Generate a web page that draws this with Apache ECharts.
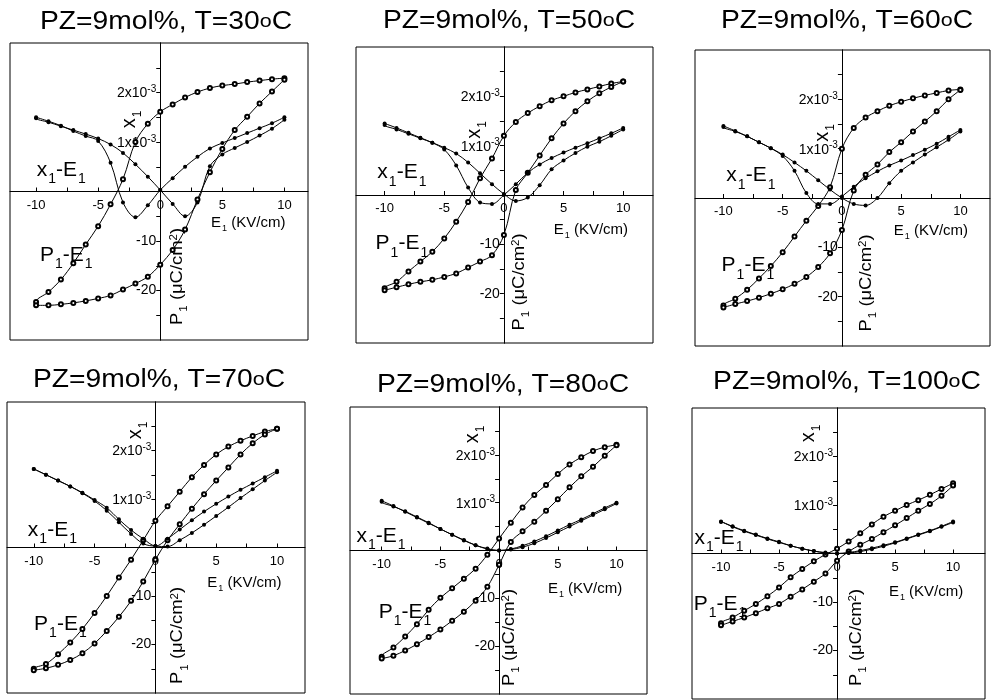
<!DOCTYPE html>
<html>
<head>
<meta charset="utf-8">
<script src="https://cdn.jsdelivr.net/npm/echarts@6/dist/echarts.min.js"></script>
<style>
  html, body { margin: 0; padding: 0; background: #fff; }
  #chart { width: 992px; height: 700px; }
</style>
</head>
<body>
<div id="chart"></div>
<script>
// field E1 (kV/cm) shared by every branch
const E = [-10,-9,-8,-7,-6,-5,-4,-3,-2,-1,0,1,2,3,4,5,6,7,8,9,10];
const temps = [30, 50, 60, 70, 80, 100];

// P1 (uC/cm2): up = branch swept from +Emax, down = branch swept from -Emax
// x1 (x10^-3): inc = field increasing, dec = field decreasing
const pUp30 = [-22.3,-20.3,-17.8,-14.5,-10.7,-7.0,-2.6,2.5,10.0,13.7,16.1,17.6,19.0,20.1,20.9,21.4,21.7,22.1,22.4,22.7,22.9];
const pDown30 = [-23.0,-23.0,-22.8,-22.5,-22.1,-21.6,-21.0,-19.8,-18.6,-17.2,-14.8,-11.8,-7.7,-1.6,3.9,8.6,12.4,15.1,17.8,20.2,22.6];
const xInc30 = [1.48,1.40,1.32,1.24,1.16,1.07,0.95,0.78,0.55,0.30,0.03,-0.25,-0.50,-0.22,0.51,0.75,0.88,1.00,1.13,1.27,1.45];
const xDec30 = [1.50,1.42,1.33,1.22,1.12,1.02,0.58,-0.22,-0.52,-0.28,0.03,0.27,0.50,0.70,0.87,0.98,1.08,1.18,1.28,1.38,1.50];

const pUp50 = [-18.9,-17.6,-15.5,-13.5,-11.5,-8.8,-5.4,-1.4,3.4,7.4,12.0,14.8,16.6,18.0,19.2,20.0,20.8,21.4,22.0,22.6,23.0];
const pDown50 = [-19.3,-18.7,-18.1,-17.6,-17.2,-16.6,-15.9,-14.7,-13.5,-12.2,-8.1,1.0,4.5,8.0,11.5,14.5,17.0,19.0,20.6,21.9,23.0];
const xInc50 = [1.42,1.33,1.24,1.15,1.06,0.96,0.84,0.66,0.44,0.22,0.02,-0.12,-0.05,0.20,0.52,0.70,0.85,0.98,1.08,1.20,1.33];
const xDec50 = [1.45,1.36,1.26,1.16,1.06,0.92,0.60,0.15,-0.15,-0.18,0.00,0.22,0.45,0.62,0.75,0.86,0.96,1.05,1.15,1.25,1.36];

const pUp60 = [-21.8,-20.4,-18.6,-16.3,-13.8,-11.0,-7.8,-4.6,-1.6,2.2,10.0,14.2,16.3,17.6,18.7,19.5,20.2,20.8,21.3,21.8,22.0];
const pDown60 = [-22.2,-21.5,-20.9,-20.2,-19.4,-18.5,-17.4,-16.0,-14.0,-11.2,-6.5,1.5,4.7,6.8,9.3,11.3,13.5,15.5,17.6,20.0,21.9];
const xInc60 = [1.44,1.35,1.25,1.13,1.01,0.88,0.72,0.55,0.36,0.17,0.00,-0.12,-0.15,0.00,0.30,0.55,0.72,0.88,1.03,1.18,1.35];
const xDec60 = [1.46,1.36,1.25,1.13,1.01,0.85,0.55,0.10,-0.12,-0.12,0.03,0.23,0.40,0.54,0.66,0.76,0.87,0.98,1.10,1.24,1.38];

const pUp70 = [-25.0,-24.0,-22.0,-19.6,-16.8,-13.5,-10.0,-6.2,-2.5,1.5,5.5,8.5,11.5,14.5,17.0,19.2,20.8,22.0,23.0,23.9,24.5];
const pDown70 = [-25.3,-24.9,-24.2,-23.2,-21.8,-19.8,-17.2,-14.3,-11.0,-7.0,-2.5,1.5,4.8,8.0,11.0,13.8,16.5,19.2,21.5,23.3,24.5];
const xInc70 = [1.62,1.50,1.38,1.26,1.13,0.98,0.82,0.58,0.36,0.18,0.03,0.02,0.15,0.30,0.47,0.65,0.83,1.02,1.20,1.38,1.55];
const xDec70 = [1.62,1.50,1.38,1.26,1.12,0.96,0.76,0.52,0.28,0.08,0.03,0.18,0.37,0.56,0.74,0.90,1.05,1.19,1.32,1.45,1.58];

const pUp80 = [-22.2,-20.3,-18.0,-15.4,-12.4,-9.9,-7.9,-5.9,-3.8,-0.9,2.5,5.8,9.0,11.6,13.7,16.0,18.0,19.5,20.8,21.6,22.1];
const pDown80 = [-22.6,-22.0,-20.9,-19.6,-18.1,-16.5,-14.7,-12.8,-10.5,-7.6,-3.0,1.8,4.0,6.0,8.3,10.7,13.2,15.5,17.5,19.8,22.0];
const xInc80 = [1.02,0.92,0.82,0.70,0.58,0.45,0.33,0.22,0.11,0.04,0.00,0.02,0.07,0.15,0.26,0.38,0.50,0.62,0.74,0.86,0.98];
const xDec80 = [1.04,0.93,0.81,0.69,0.57,0.45,0.33,0.21,0.11,0.03,0.00,0.03,0.10,0.19,0.30,0.42,0.54,0.65,0.77,0.89,1.00];

const pUp100 = [-14.4,-13.2,-11.8,-10.4,-8.8,-7.0,-4.9,-3.2,-1.6,-0.2,1.0,2.5,4.2,6.0,7.6,8.8,10.0,11.0,12.1,13.3,14.5];
const pDown100 = [-14.8,-14.0,-13.2,-12.3,-11.3,-10.4,-8.9,-7.4,-5.8,-4.1,-1.5,0.4,1.8,3.0,4.4,5.8,7.3,8.8,10.2,11.9,14.0];
const xInc100 = [0.65,0.55,0.46,0.38,0.30,0.23,0.16,0.10,0.05,0.02,0.00,0.01,0.04,0.09,0.15,0.22,0.30,0.38,0.46,0.55,0.64];
const xDec100 = [0.66,0.56,0.47,0.39,0.31,0.24,0.16,0.10,0.05,0.01,0.00,0.02,0.06,0.11,0.17,0.23,0.31,0.39,0.47,0.56,0.66];

const eLabels = [-10, -5, 0, 5, 10];
const pLabels = [-10, -20];
const xLabels = [1, 2];

const pUp = [pUp30, pUp50, pUp60, pUp70, pUp80, pUp100];
const pDown = [pDown30, pDown50, pDown60, pDown70, pDown80, pDown100];
const xInc = [xInc30, xInc50, xInc60, xInc70, xInc80, xInc100];
const xDec = [xDec30, xDec50, xDec60, xDec70, xDec80, xDec100];

// panel placement: grid [left, top, width, height], x range, text offsets from the origin
const layout = [
  {grid:[10,43,298,297],  xr:[-12.1,11.9],  title:[166,23],  xe:[-99,-21],  pe:[-94,64],  xl:[-30,-72],  el:[88,32], pl:[18,85]},
  {grid:[356,47,297,296], xr:[-12.4,12.5],  title:[509,22],  xe:[-102,-22], pe:[-102,49], xl:[-29,-65],  el:[87,35], pl:[16,87]},
  {grid:[695,50,295,296], xr:[-12.4,12.5],  title:[847,22],  xe:[-91,-22],  pe:[-94,68],  xl:[-19,-65],  el:[89,33], pl:[25,85]},
  {grid:[7,402,298,291],  xr:[-12.2,12.3],  title:[159,381], xe:[-103,-17], pe:[-95,77],  xl:[-19,-117], el:[89,36], pl:[23,88]},
  {grid:[350,407,297,287],xr:[-12.7,12.6],  title:[503,386], xe:[-118,-14], pe:[-94,62],  xl:[-26,-116], el:[86,39], pl:[11,87]},
  {grid:[692,408,293,291],xr:[-12.5,12.75], title:[847,383], xe:[-118,-15], pe:[-117,51], xl:[-28,-120], el:[89,39], pl:[20,84]}
];

const FONT = 'Liberation Sans, Arial, Helvetica, sans-serif';

function subRich(size, sub) {
  return {
    n: {fontSize: size, fontFamily: FONT, color: '#000', lineHeight: size + 1, verticalAlign: 'top'},
    s: {fontSize: sub, fontFamily: FONT, color: '#000', lineHeight: sub, padding: [Math.round(size * 0.62), 0, 0, 1], verticalAlign: 'top'},
    u: {fontSize: sub, fontFamily: FONT, color: '#000', lineHeight: sub, padding: [0, 0, 0, 0], verticalAlign: 'top'}
  };
}

function loop(up, down) {
  const a = E.map((e, i) => [e, up[i]]).reverse();
  const b = E.map((e, i) => [e, down[i]]);
  return a.concat(b);
}

const grids = [], xAxes = [], yAxes = [], series = [], graphics = [];

temps.forEach((t, i) => {
  const L = layout[i];
  const [gl, gt, gw, gh] = L.grid;
  // pixel position of E=0 / P=0 inside the panel
  const ox = gl + (-L.xr[0]) / (L.xr[1] - L.xr[0]) * gw;
  const oy = gt + gh / 2;

  grids.push({left: gl, top: gt, width: gw, height: gh, show: true, borderColor: '#000', borderWidth: 1, backgroundColor: 'transparent'});

  xAxes.push({
    type: 'value', gridIndex: i, min: L.xr[0], max: L.xr[1],
    position: 'bottom', offset: -(gh / 2),
    axisLine: {onZero: false, lineStyle: {color: '#000', width: 1}},
    axisTick: {inside: true, length: 4, lineStyle: {color: '#000'}, customValues: [-10, -7.5, -5, -2.5, 2.5, 5, 7.5, 10]},
    axisLabel: {customValues: eLabels, color: '#000', fontSize: 13, fontFamily: FONT, margin: 7},
    splitLine: {show: false}
  });

  // polarization axis (lower half labelled)
  yAxes.push({
    type: 'value', gridIndex: i, min: -30, max: 30, position: 'left', offset: -(ox - gl),
    axisLine: {onZero: false, lineStyle: {color: '#000', width: 1}},
    axisTick: {length: 4, lineStyle: {color: '#000'}, customValues: [-25, -20, -15, -10, -5]},
    axisLabel: {customValues: pLabels, color: '#000', fontSize: 14, fontFamily: FONT, margin: 4},
    splitLine: {show: false}
  });
  // strain axis (upper half labelled), same vertical line
  yAxes.push({
    type: 'value', gridIndex: i, min: -3, max: 3, position: 'left', offset: -(ox - gl),
    axisLine: {onZero: false, lineStyle: {color: '#000', width: 1}},
    axisTick: {length: 4, lineStyle: {color: '#000'}, customValues: [0.5, 1, 1.5, 2, 2.5]},
    axisLabel: {
      customValues: xLabels, margin: 4,
      formatter: v => '{a|' + v + 'x10}{s|-3}',
      rich: {
        a: {fontSize: 14, fontFamily: FONT, color: '#000', lineHeight: 16, verticalAlign: 'bottom'},
        s: {fontSize: 10, fontFamily: FONT, color: '#000', lineHeight: 10, verticalAlign: 'top'}
      }
    },
    splitLine: {show: false}
  });

  series.push({
    type: 'line', xAxisIndex: i, yAxisIndex: 2 * i, data: loop(pUp[i], pDown[i]),
    smooth: 0.35, symbol: 'emptyCircle', symbolSize: 4,
    lineStyle: {color: '#000', width: 1},
    itemStyle: {color: '#000', borderColor: '#000', borderWidth: 1}
  });
  series.push({
    type: 'line', xAxisIndex: i, yAxisIndex: 2 * i + 1, data: loop(xDec[i], xInc[i]),
    smooth: 0.35, symbol: 'circle', symbolSize: 4,
    lineStyle: {color: '#000', width: 1},
    itemStyle: {color: '#000'}
  });

  graphics.push({
    type: 'text', x: L.title[0], y: L.title[1], scaleX: 1.13,
    style: {
      text: '{t|PZ=9mol%, T=' + t + '}{o|o}{t|C}',
      textAlign: 'center', textVerticalAlign: 'middle',
      rich: {
        t: {fontSize: 25, fontFamily: FONT, color: '#000', lineHeight: 27, verticalAlign: 'top'},
        o: {fontSize: 19, fontFamily: FONT, color: '#000', lineHeight: 19, padding: [3, 0, 0, 0], verticalAlign: 'top'}
      }
    }
  });
  graphics.push({
    type: 'text', x: ox + L.xe[0], y: oy + L.xe[1],
    style: {text: '{n|x}{s|1}{n|-E}{s|1}', textAlign: 'center', textVerticalAlign: 'middle', rich: subRich(21, 14)}
  });
  graphics.push({
    type: 'text', x: ox + L.pe[0], y: oy + L.pe[1],
    style: {text: '{n|P}{s|1}{n|-E}{s|1}', textAlign: 'center', textVerticalAlign: 'middle', rich: subRich(21, 14)}
  });
  graphics.push({
    type: 'text', x: ox + L.el[0], y: oy + L.el[1],
    style: {text: '{n|E}{s|1}{n| (KV/cm)}', textAlign: 'center', textVerticalAlign: 'middle', rich: subRich(15, 9)}
  });
  graphics.push({
    type: 'text', x: ox + L.xl[0], y: oy + L.xl[1], rotation: Math.PI / 2,
    style: {text: '{n|x}{s|1}', textAlign: 'center', textVerticalAlign: 'middle', rich: subRich(20, 12)}
  });
  graphics.push({
    type: 'text', x: ox + L.pl[0], y: oy + L.pl[1], rotation: Math.PI / 2, scaleX: 1.15,
    style: {text: '{n|P}{s|1}{n| (μC/cm}{u|2}{n|)}', textAlign: 'center', textVerticalAlign: 'middle', rich: subRich(16, 10)}
  });
});

const chart = echarts.init(document.getElementById('chart'));
chart.setOption({
  backgroundColor: '#fff',
  animation: false,
  textStyle: {fontFamily: FONT},
  grid: grids,
  xAxis: xAxes,
  yAxis: yAxes,
  series: series,
  graphic: graphics
});
</script>
</body>
</html>
